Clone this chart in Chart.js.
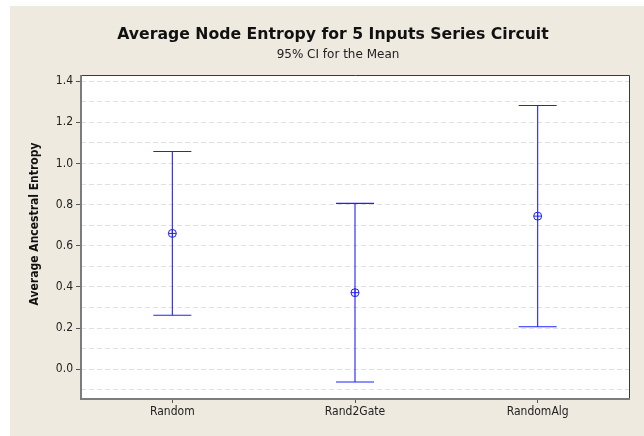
<!DOCTYPE html>
<html>
<head>
<meta charset="utf-8">
<script src="https://cdn.jsdelivr.net/npm/chart.js@4.4.1/dist/chart.umd.min.js"></script>
<style>
  html, body { margin: 0; padding: 0; background: #ffffff; }
  #wrap { width: 644px; height: 436px; position: relative; }
</style>
</head>
<body>
<div id="wrap"><canvas id="c" width="644" height="436"></canvas></div>
<script>
// Interval plot data: mean with 95% confidence interval per method
const categories = ['Random', 'Rand2Gate', 'RandomAlg'];
const means = [0.660, 0.372, 0.744];
const lower = [0.262, -0.062, 0.206];
const upper = [1.058, 0.806, 1.282];

// Y axis ticks (labels shown on every other one)
const yTicks = [-0.1, 0.0, 0.1, 0.2, 0.3, 0.4, 0.5, 0.6, 0.7, 0.8, 0.9, 1.0, 1.1, 1.2, 1.3, 1.4];

const titleText = 'Average Node Entropy for 5 Inputs Series Circuit';
const subtitleText = '95% CI for the Mean';
const yAxisTitle = 'Average Ancestral Entropy';

const FONT = "'DejaVu Sans Condensed', 'DejaVu Sans', sans-serif";
const WIDE_FONT = "'DejaVu Sans', sans-serif";
const BLUE = '#2020ff';
const PANEL = '#eeeae0';

const isMajor = v => Math.round(v * 10) % 2 === 0;

// Background panel and white plotting area
const panelPlugin = {
  id: 'panel',
  beforeDraw(chart) {
    const { ctx, chartArea: a } = chart;
    ctx.save();
    ctx.fillStyle = '#ffffff';
    ctx.fillRect(0, 0, chart.width, chart.height);
    ctx.fillStyle = PANEL;
    ctx.fillRect(10, 6, chart.width - 10, chart.height - 6);
    ctx.fillStyle = '#ffffff';
    ctx.fillRect(a.left, a.top, a.right - a.left, a.bottom - a.top);
    ctx.restore();
  }
};

// Confidence interval whiskers with caps
const intervalPlugin = {
  id: 'intervals',
  beforeDatasetsDraw(chart) {
    const { ctx, scales: { x, y } } = chart;
    const cap = 19;
    ctx.save();
    ctx.strokeStyle = BLUE;
    ctx.lineWidth = 1.1;
    categories.forEach((c, i) => {
      const px = x.getPixelForValue(i);
      const yHi = y.getPixelForValue(upper[i]);
      const yLo = y.getPixelForValue(lower[i]);
      ctx.beginPath();
      ctx.moveTo(px, yHi); ctx.lineTo(px, yLo);
      ctx.stroke();
      ctx.beginPath();
      ctx.moveTo(px - cap, yHi); ctx.lineTo(px + cap, yHi);
      ctx.stroke();
      ctx.beginPath();
      ctx.moveTo(px - cap, yLo); ctx.lineTo(px + cap, yLo);
      ctx.stroke();
    });
    ctx.restore();
  }
};

// Plot frame and titles
const framePlugin = {
  id: 'frame',
  afterDraw(chart) {
    const { ctx, chartArea: a } = chart;
    ctx.save();
    ctx.lineWidth = 1;
    ctx.strokeStyle = '#3a3a3a';
    ctx.beginPath();
    ctx.moveTo(a.left, a.top + 0.5); ctx.lineTo(a.right + 0.5, a.top + 0.5);
    ctx.lineTo(a.right + 0.5, a.bottom);
    ctx.stroke();
    ctx.strokeStyle = '#7c7c7c';
    ctx.lineWidth = 2;
    ctx.beginPath();
    ctx.moveTo(a.left, a.top); ctx.lineTo(a.left, a.bottom + 1);
    ctx.lineTo(a.right + 1, a.bottom + 1);
    ctx.stroke();

    ctx.fillStyle = '#111111';
    ctx.textAlign = 'center';
    ctx.textBaseline = 'alphabetic';
    ctx.font = 'bold 15.7px ' + WIDE_FONT;
    ctx.fillText(titleText, 333, 38.5);
    ctx.font = '12px ' + WIDE_FONT;
    ctx.fillStyle = '#222222';
    ctx.fillText(subtitleText, 338, 58);

    ctx.translate(38, 224);
    ctx.rotate(-Math.PI / 2);
    ctx.font = 'bold 12px ' + FONT;
    ctx.fillStyle = '#111111';
    ctx.fillText(yAxisTitle, 0, 0);
    ctx.restore();
  }
};

new Chart(document.getElementById('c'), {
  type: 'line',
  data: {
    labels: categories,
    datasets: [
      {
        data: means,
        showLine: false,
        pointStyle: 'circle',
        pointRadius: 4,
        pointBorderWidth: 1,
        pointBorderColor: BLUE,
        pointBackgroundColor: 'rgba(0,0,0,0)'
      },
      {
        data: means,
        showLine: false,
        pointStyle: 'cross',
        pointRadius: 4,
        pointBorderWidth: 1,
        pointBorderColor: BLUE
      }
    ]
  },
  options: {
    responsive: false,
    animation: false,
    events: [],
    layout: { padding: { top: 75, right: 15, left: 0, bottom: 0 } },
    plugins: {
      legend: { display: false },
      title: { display: false },
      tooltip: { enabled: false }
    },
    scales: {
      x: {
        type: 'category',
        offset: true,
        border: { display: false },
        grid: {
          drawOnChartArea: false,
          tickLength: 5,
          tickColor: '#555555',
          offset: false
        },
        ticks: {
          color: '#222222',
          font: { family: FONT, size: 12 },
          padding: 2,
          maxRotation: 0
        },
        afterFit(scale) { scale.height = 38; }
      },
      y: {
        min: -0.14,
        max: 1.43,
        border: { display: false, dash: [5, 3] },
        afterBuildTicks(scale) { scale.ticks = yTicks.map(v => ({ value: v })); },
        grid: {
          color: '#e0e0e0',
          lineWidth: 1,
          tickLength: 5,
          tickBorderDash: [],
          tickColor: ctx => (ctx.tick && isMajor(ctx.tick.value)) ? '#555555' : 'rgba(0,0,0,0)'
        },
        ticks: {
          color: '#222222',
          font: { family: FONT, size: 12 },
          padding: 3,
          autoSkip: false,
          callback: v => isMajor(v) ? v.toFixed(1) : ''
        },
        afterFit(scale) { scale.width = 81; }
      }
    }
  },
  plugins: [panelPlugin, intervalPlugin, framePlugin]
});
</script>
</body>
</html>
